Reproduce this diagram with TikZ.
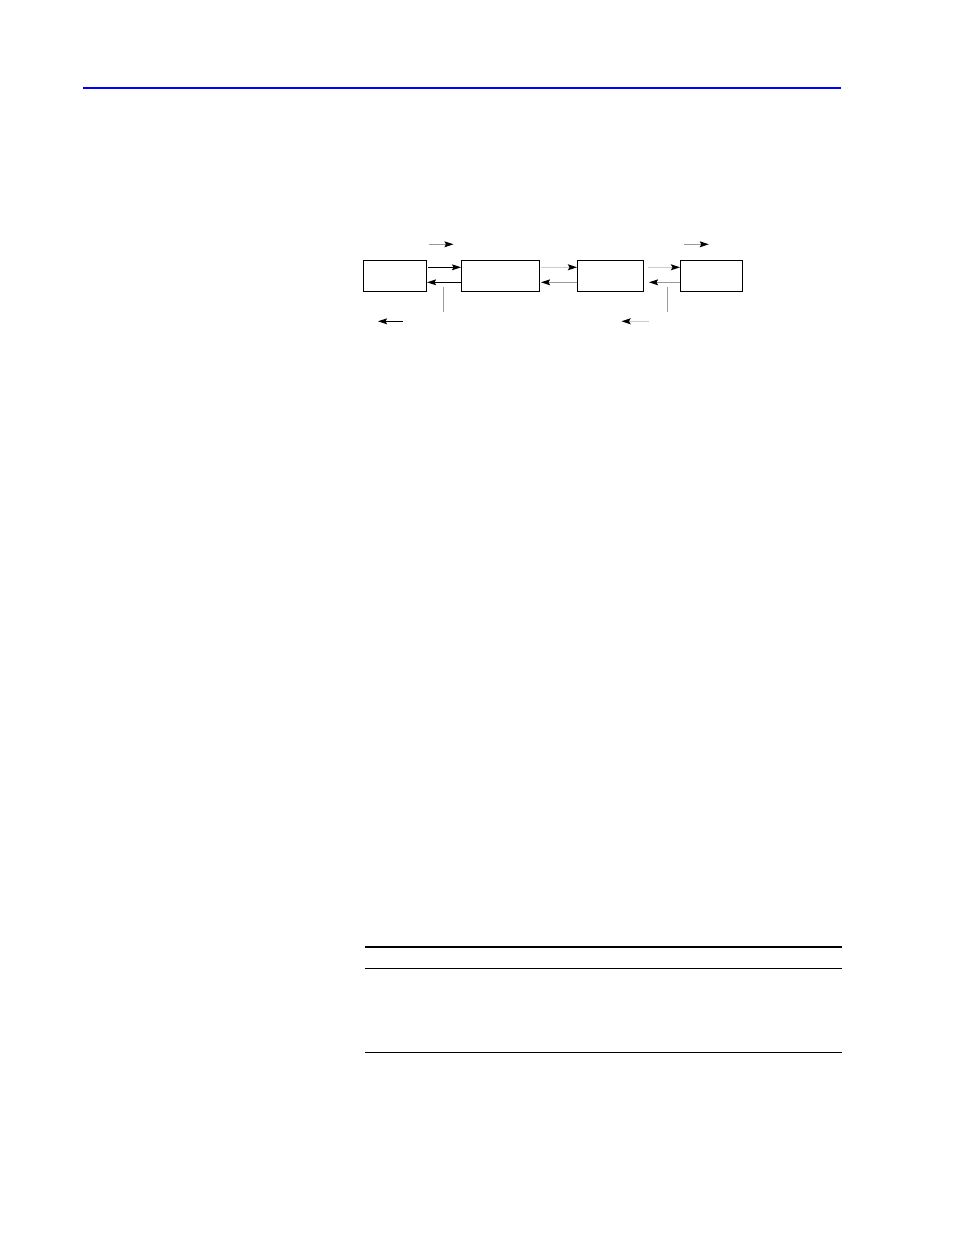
\documentclass[tikz,border=0pt]{standalone}
\usetikzlibrary{arrows.meta}
\definecolor{lightg}{HTML}{CCCCCC}
\definecolor{midg}{HTML}{999999}
\begin{document}
\begin{tikzpicture}[x=0.75pt,y=-0.75pt,line width=0.75pt,
  box/.style={draw=black,rectangle,inner sep=0pt,outer sep=0pt,minimum height=23.25pt},
  arr/.style={-{Stealth[length=6.8pt,width=4.4pt,inset=1.2pt,black]}},
  light/.style={lightg,line width=1.2pt},
  rule/.style={line width=0.75pt}]
\useasboundingbox (0,0) rectangle (954,1235);
% header rule
\coordinate (hl) at (83.3,87.7);
\coordinate (hr) at (840.7,87.7);
\draw[blue,line width=1.3pt] (hl) -- (hr);
% boxes
\node[box,minimum width=46.9pt] (A) at (395.25,275.5) {};
\node[box,minimum width=59pt] (B) at (500.35,275.5) {};
\node[box,minimum width=50pt] (C) at (610.35,275.5) {};
\node[box,minimum width=47pt] (D) at (711.35,275.5) {};
% connectors
\draw[arr,black] ([xshift=1pt,yshift=6.15pt]A.east) -- ([yshift=6.15pt]B.west);
\draw[arr,black] ([yshift=-5.1pt]B.west) -- ([xshift=0.4pt,yshift=-5.1pt]A.east);
\draw[arr,light] ([xshift=1pt,yshift=6.15pt]B.east) -- ([yshift=6.15pt]C.west);
\draw[arr,midg] ([yshift=-5.1pt]C.west) -- ([xshift=1pt,yshift=-5.1pt]B.east);
\draw[arr,light] ([xshift=3pt,yshift=6.15pt]C.east) -- ([yshift=6.15pt]D.west);
\draw[arr,midg] ([yshift=-5.1pt]D.west) -- ([xshift=4pt,yshift=-5.1pt]C.east);
% vertical lines
\coordinate (v1a) at (443.7,286.7); \coordinate (v1b) at (443.7,311.7);
\coordinate (v2a) at (667.3,286.7); \coordinate (v2b) at (667.3,311.7);
\draw[midg] (v1a) -- (v1b);
\draw[midg] (v2a) -- (v2b);
% floating arrows
\coordinate (t1a) at (429,244.3); \coordinate (t1b) at (453.5,244.3);
\coordinate (t2a) at (684.3,244.3); \coordinate (t2b) at (708.8,244.3);
\coordinate (b1a) at (402.7,321.3); \coordinate (b1b) at (378,321.3);
\coordinate (b2a) at (649,321.3); \coordinate (b2b) at (621.5,321.3);
\draw[arr,midg] (t1a) -- (t1b);
\draw[arr,midg] (t2a) -- (t2b);
\draw[arr,black] (b1a) -- (b1b);
\draw[arr,light] (b2a) -- (b2b);
% table rules
\coordinate (r1l) at (365,947); \coordinate (r1r) at (841.7,947);
\coordinate (r2l) at (365,968.3); \coordinate (r2r) at (841.7,968.3);
\coordinate (r3l) at (365,1052.3); \coordinate (r3r) at (841.7,1052.3);
\draw[line width=1.5pt] (r1l) -- (r1r);
\draw[rule] (r2l) -- (r2r);
\draw[rule] (r3l) -- (r3r);
\end{tikzpicture}
\end{document}
